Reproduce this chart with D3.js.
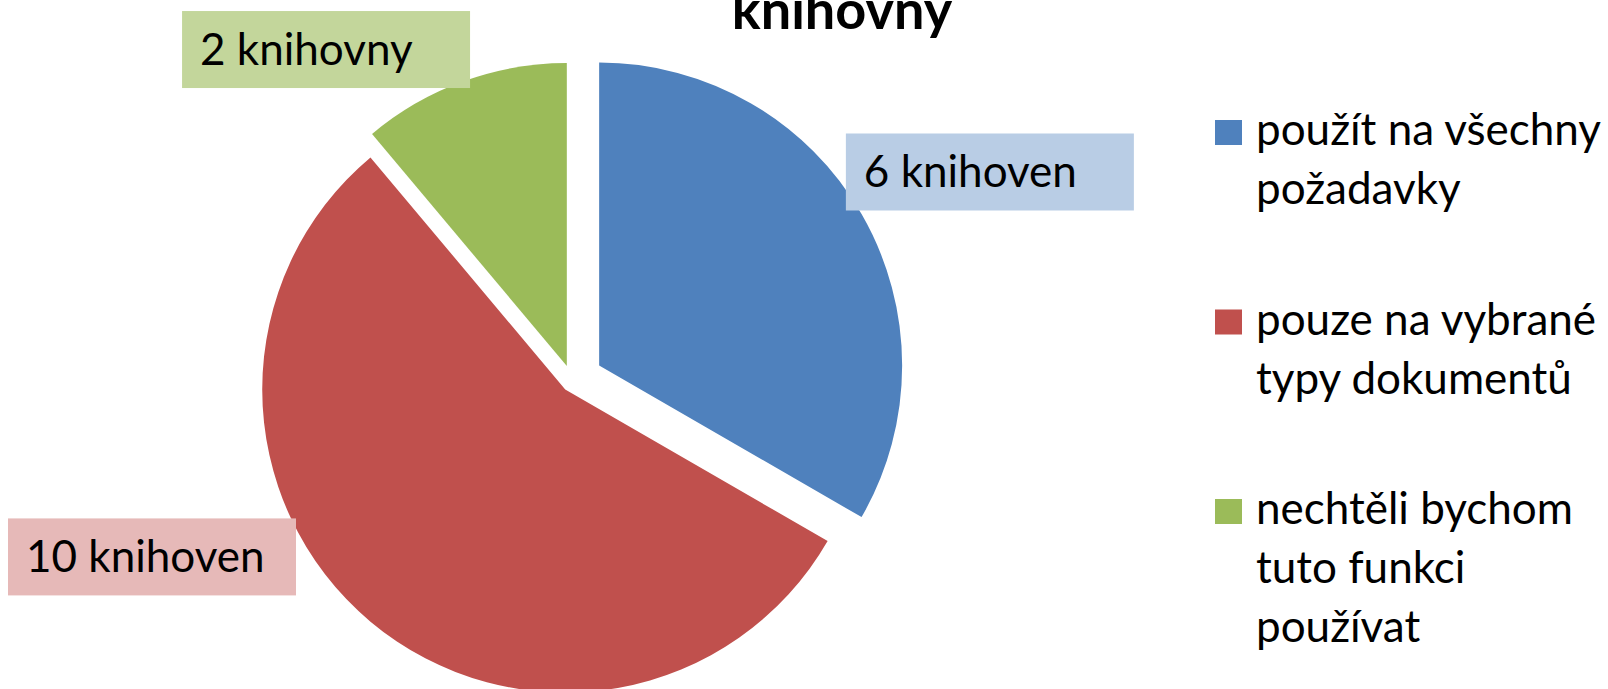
<!DOCTYPE html>
<html>
<head>
<meta charset="utf-8">
<script src="https://cdn.jsdelivr.net/npm/d3@7"></script>
<style>
body { margin: 0; background: #fff; }
text { font-family: Lato, "Open Sans", sans-serif; fill: #000; }
</style>
</head>
<body>
<svg id="chart"></svg>
<script>
// chart data
var categories = ["použít na všechny požadavky", "pouze na vybrané typy dokumentů", "nechtěli bychom tuto funkci používat"];
var values = [6, 10, 2];
var valueLabels = ["6 knihoven", "10 knihoven", "2 knihovny"];
var legendLines = [["použít na všechny", "požadavky"], ["pouze na vybrané", "typy dokumentů"], ["nechtěli bychom", "tuto funkci", "používat"]];
var titleText = "knihovny";

// colours (excel 2007 palette)
var colors = ["#4F81BD", "#C0504D", "#9BBB59"];
var labelFills = ["#B9CDE5", "#E6B9B8", "#C3D69B"];

// layout
var width = 1608, height = 689;
var center = {x: 572.3, y: 381.1}, radius = 303;
var explode = [31, 11, 16];              // how far each slice is pulled out
var labelAngle = [63.4, 247.3, 323.4];   // degrees clockwise from top
var labelDist = [467, 455.6, 413];
var labelBox = {w: 288, h: 77, padLeft: 18, baseline: 54};

var svg = d3.select("#chart")
    .attr("width", width)
    .attr("height", height);

svg.append("rect").attr("width", width).attr("height", height).attr("fill", "#fff");

// title (its first line sits above the picture)
svg.append("text")
    .attr("x", 842)
    .attr("y", 29)
    .attr("text-anchor", "middle")
    .style("font-weight", "bold")
    .style("font-size", "54px")
    .text(titleText);

var pie = d3.pie().sort(null).value(d => d);
var arc = d3.arc().innerRadius(0).outerRadius(radius);
var arcs = pie(values);

var g = svg.append("g").attr("transform", `translate(${center.x},${center.y})`);

g.selectAll("path.slice")
    .data(arcs)
    .enter().append("path")
    .attr("class", "slice")
    .attr("fill", (d, i) => colors[i])
    .attr("transform", (d, i) => {
        var mid = (d.startAngle + d.endAngle) / 2;
        return `translate(${Math.sin(mid) * explode[i]},${-Math.cos(mid) * explode[i]})`;
    })
    .attr("d", arc);

// data labels with filled boxes
var lab = g.selectAll("g.label")
    .data(arcs)
    .enter().append("g")
    .attr("class", "label")
    .attr("transform", (d, i) => {
        var a = labelAngle[i] * Math.PI / 180;
        var cx = Math.sin(a) * labelDist[i], cy = -Math.cos(a) * labelDist[i];
        return `translate(${cx - labelBox.w / 2},${cy - labelBox.h / 2})`;
    });

lab.append("rect")
    .attr("width", labelBox.w)
    .attr("height", labelBox.h)
    .attr("fill", (d, i) => labelFills[i]);

lab.append("text")
    .attr("x", labelBox.padLeft)
    .attr("y", labelBox.baseline)
    .style("font-size", "44px")
    .text((d, i) => valueLabels[i]);

// legend
var legend = svg.append("g").attr("transform", "translate(1215,120)");
var item = legend.selectAll("g")
    .data(categories)
    .enter().append("g")
    .attr("transform", (d, i) => `translate(0,${i * 189.5})`);

item.append("rect")
    .attr("width", 27)
    .attr("height", 25)
    .attr("fill", (d, i) => colors[i]);

item.append("text")
    .attr("x", 41)
    .attr("y", 25)
    .style("font-size", "44px")
    .selectAll("tspan")
    .data((d, i) => legendLines[i])
    .enter().append("tspan")
    .attr("x", 41)
    .attr("dy", (d, j) => j === 0 ? 0 : 59)
    .text(d => d);
</script>
</body>
</html>
